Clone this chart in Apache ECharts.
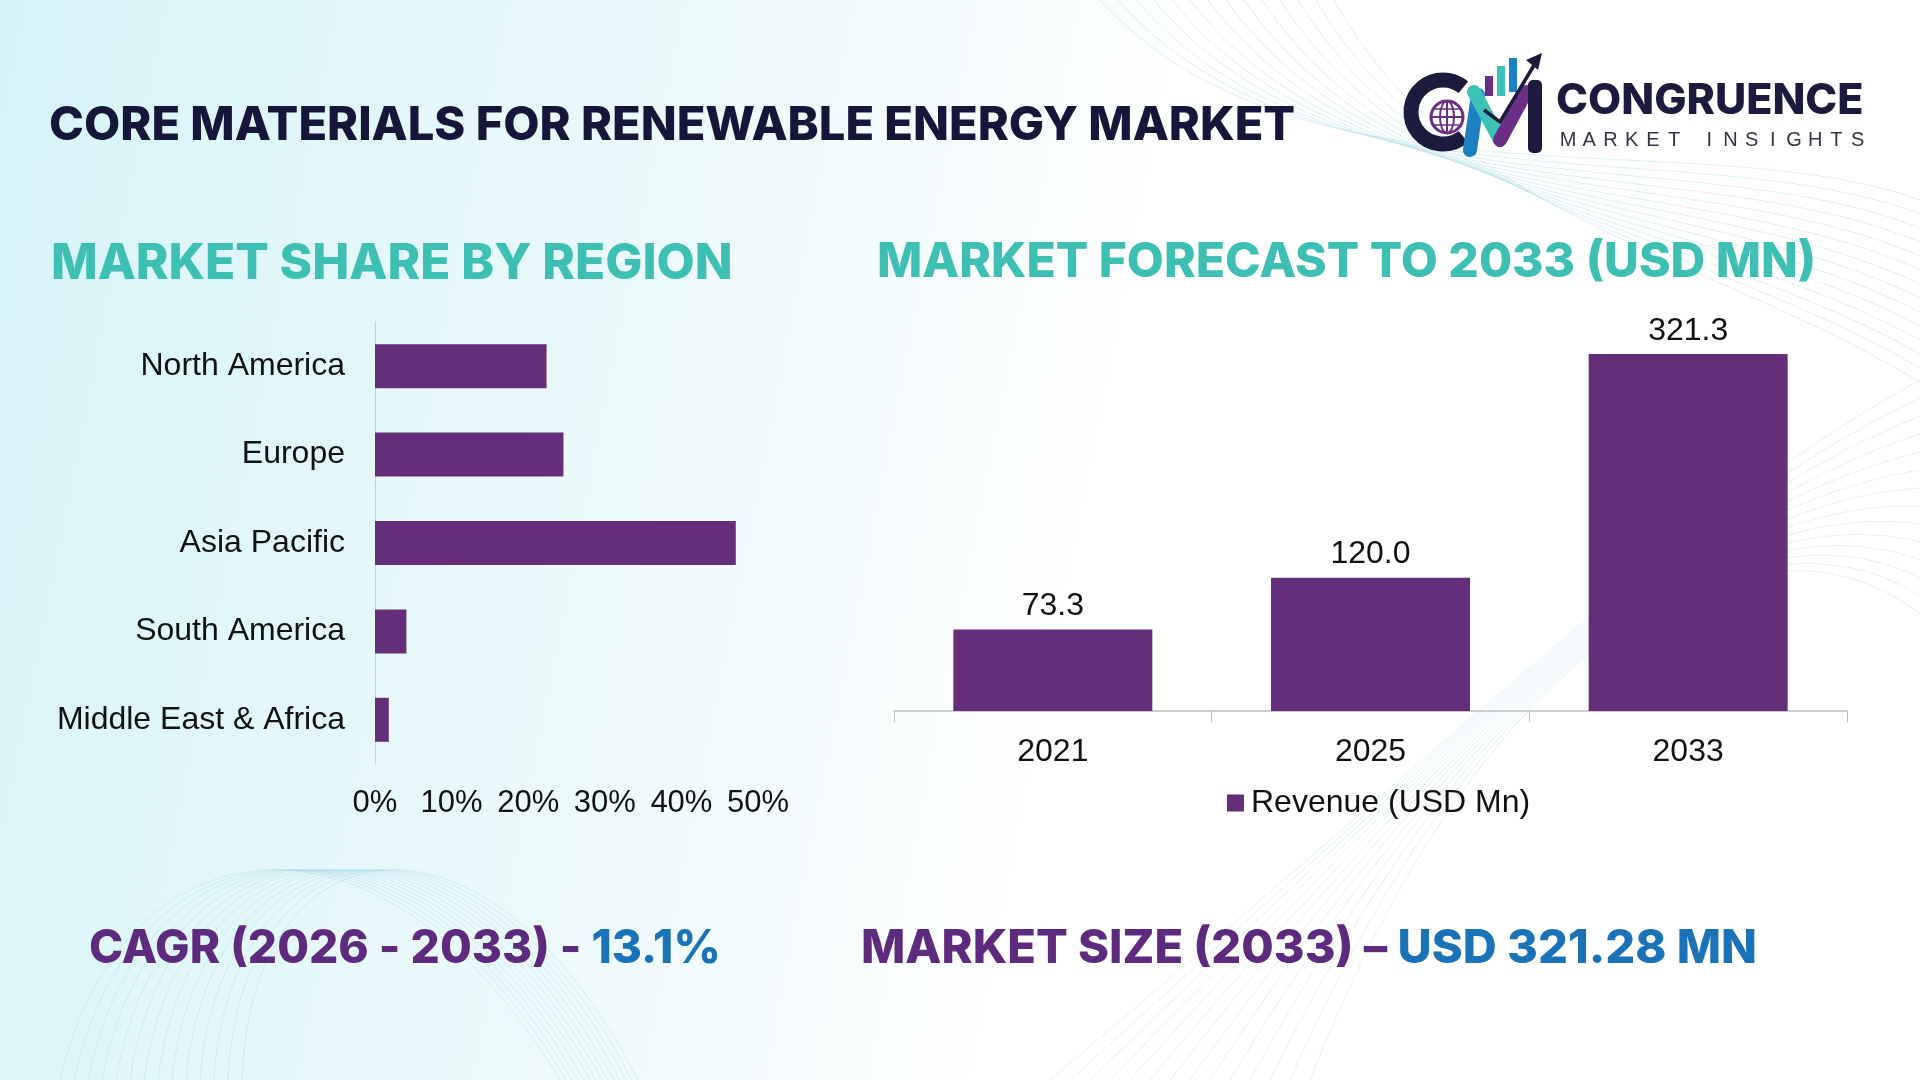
<!DOCTYPE html>
<html>
<head>
<meta charset="utf-8">
<title>Core Materials for Renewable Energy Market</title>
<script src="https://cdn.jsdelivr.net/npm/echarts@6/dist/echarts.min.js"></script>
<style>
  html, body { margin: 0; padding: 0; }
  #main { width: 1920px; height: 1080px; }
</style>
</head>
<body>
<div id="main"></div>
<script>
// region share (fraction of total)
var regions = ['North America', 'Europe', 'Asia Pacific', 'South America', 'Middle East & Africa'];
var regionShare = [0.224, 0.246, 0.471, 0.041, 0.018];
var shareTicks = [0, 0.1, 0.2, 0.3, 0.4, 0.5];

// forecast
var years = ['2021', '2025', '2033'];
var revenue = [73.3, 120.0, 321.3];

var purple = '#642e7a';
var labelFont = 'Liberation Sans, Arial, sans-serif';
var headFont = 'Inter, Open Sans, sans-serif';

var chart = echarts.init(document.getElementById('main'));

// faint background wave lines
var waves = [];
for (var i = 0; i < 14; i++) {
    waves.push({
        type: 'bezierCurve',
        silent: true,
        shape: { x1: 1100 + i * 18, y1: 0, cpx1: 1300 + i * 12, cpy1: 220, cpx2: 1700, cpy2: 120 + i * 10, x2: 1920, y2: 200 + i * 14 },
        style: { stroke: '#9fd3e0', lineWidth: 1, opacity: 0.35, fill: null }
    });
    waves.push({
        type: 'bezierCurve',
        silent: true,
        shape: { x1: 60 + i * 14, y1: 1080, cpx1: 120 + i * 10, cpy1: 820, cpx2: 380 + i * 8, cpy2: 780, x2: 560 + i * 6, y2: 1080 },
        style: { stroke: '#9fd3e0', lineWidth: 1, opacity: 0.35, fill: null }
    });
    waves.push({
        type: 'bezierCurve',
        silent: true,
        shape: { x1: 1050 + i * 20, y1: 1080, cpx1: 1500, cpy1: 700 - i * 8, cpx2: 1700 + i * 6, cpy2: 500, x2: 1920, y2: 380 + i * 18 },
        style: { stroke: '#9fd3e0', lineWidth: 1, opacity: 0.3, fill: null }
    });
}

var logo = [
    { type: 'arc', shape: { cx: 1443, cy: 112, r: 32, startAngle: Math.PI * 0.28, endAngle: Math.PI * 1.72, clockwise: true },
      style: { stroke: '#1c1a3d', lineWidth: 15, fill: null } },
    { type: 'circle', shape: { cx: 1447, cy: 117, r: 16 }, style: { fill: 'none', stroke: '#6a2f85', lineWidth: 3 } },
    { type: 'line', shape: { x1: 1431, y1: 117, x2: 1463, y2: 117 }, style: { stroke: '#6a2f85', lineWidth: 2 } },
    { type: 'line', shape: { x1: 1447, y1: 101, x2: 1447, y2: 133 }, style: { stroke: '#6a2f85', lineWidth: 2 } },
    { type: 'ellipse', shape: { cx: 1447, cy: 117, rx: 7, ry: 16 }, style: { fill: 'none', stroke: '#6a2f85', lineWidth: 2 } },
    { type: 'line', shape: { x1: 1433, y1: 109, x2: 1461, y2: 109 }, style: { stroke: '#6a2f85', lineWidth: 1.5 } },
    { type: 'line', shape: { x1: 1433, y1: 125, x2: 1461, y2: 125 }, style: { stroke: '#6a2f85', lineWidth: 1.5 } },
    { type: 'polyline', shape: { points: [[1470, 150], [1478, 95]] }, style: { stroke: '#1d7fc4', lineWidth: 14, lineCap: 'round' } },
    { type: 'polyline', shape: { points: [[1474, 92], [1500, 140]] }, style: { stroke: '#3dc2b8', lineWidth: 14, lineCap: 'round' } },
    { type: 'polyline', shape: { points: [[1500, 140], [1526, 92]] }, style: { stroke: '#6a2f85', lineWidth: 14, lineCap: 'round' } },
    { type: 'rect', shape: { x: 1528, y: 80, width: 14, height: 73, r: 5 }, style: { fill: '#1c1a3d' } },
    { type: 'rect', shape: { x: 1485, y: 76, width: 8, height: 20 }, style: { fill: '#6a2f85' } },
    { type: 'rect', shape: { x: 1497, y: 66, width: 8, height: 30 }, style: { fill: '#3dc2b8' } },
    { type: 'rect', shape: { x: 1509, y: 58, width: 8, height: 34 }, style: { fill: '#1d7fc4' } },
    { type: 'polyline', shape: { points: [[1484, 110], [1500, 122], [1536, 62]] }, style: { stroke: '#1c1a3d', lineWidth: 3.5, fill: null } },
    { type: 'polygon', shape: { points: [[1542, 53], [1526, 60], [1538, 70]] }, style: { fill: '#1c1a3d' } },
    { type: 'text', left: 1556, top: 80, style: { text: 'CONGRUENCE', font: '800 43px ' + headFont, fill: '#1c1a3d' } }
];

// spaced-out tagline under the logo name
var tagline = 'MARKET INSIGHTS';
var tx = 1568;
for (var k = 0; k < tagline.length; k++) {
    if (tagline[k] !== ' ') {
        logo.push({
            type: 'text', x: tx, y: 140,
            style: { text: tagline[k], font: '400 20px ' + labelFont, fill: '#333344', align: 'center', verticalAlign: 'middle' }
        });
    }
    tx += tagline[k] === ' ' ? 14 : 21.2;
}

var option = {
    backgroundColor: {
        type: 'linear', x: 0, y: 0, x2: 1, y2: 0.35,
        colorStops: [
            { offset: 0, color: '#d6f4f8' },
            { offset: 0.45, color: '#f2fbfd' },
            { offset: 0.6, color: '#ffffff' },
            { offset: 1, color: '#ffffff' }
        ]
    },
    animation: false,
    graphic: waves.concat(logo).concat([
        { type: 'text', left: 49, top: 102, style: { text: 'CORE MATERIALS FOR RENEWABLE ENERGY MARKET', font: '800 47px ' + headFont, fill: '#16163a' } },
        { type: 'text', left: 51, top: 239, style: { text: 'MARKET SHARE BY REGION', font: '800 49.5px ' + headFont, fill: '#3dbfb4' } },
        { type: 'text', left: 877, top: 239, style: { text: 'MARKET FORECAST TO 2033 (USD MN)', font: '800 48px ' + headFont, fill: '#3dbfb4' } },
        { type: 'text', left: 89, top: 926, style: {
            text: '{a|CAGR (2026 - 2033) - }{b|13.1%}',
            rich: {
                a: { font: '800 46px ' + headFont, fill: '#5e2a7e' },
                b: { font: '800 46px ' + headFont, fill: '#1a73b8' }
            }
        } },
        { type: 'text', left: 861, top: 925, style: {
            text: '{a|MARKET SIZE (2033) – }{b|USD 321.28 MN}',
            rich: {
                a: { font: '800 47px ' + headFont, fill: '#5e2a7e' },
                b: { font: '800 47px ' + headFont, fill: '#1a73b8' }
            }
        } }
    ]),
    legend: {
        data: ['Revenue (USD Mn)'],
        left: 1222,
        top: 782,
        icon: 'rect',
        itemWidth: 17,
        itemHeight: 17,
        textStyle: { fontFamily: labelFont, fontSize: 32, color: '#111', padding: [0, 0, 0, 2] }
    },
    grid: [
        { left: 375, top: 322, width: 383, height: 442 },
        { left: 894, top: 322, width: 953, height: 389 }
    ],
    xAxis: [
        {
            gridIndex: 0, type: 'value', min: 0, max: 0.5, interval: 0.1,
            splitLine: { show: false }, axisLine: { show: false }, axisTick: { show: false },
            axisLabel: {
                margin: 24, fontFamily: labelFont, fontSize: 31, color: '#111',
                formatter: function (v) { return Math.round(v * 100) + '%'; }
            }
        },
        {
            gridIndex: 1, type: 'category', data: years,
            axisLine: { lineStyle: { color: '#bfbfbf', width: 1.5 } },
            axisTick: { show: true, length: 11, lineStyle: { color: '#bfbfbf' } },
            axisLabel: { margin: 25, fontFamily: labelFont, fontSize: 32, color: '#111' }
        }
    ],
    yAxis: [
        {
            gridIndex: 0, type: 'category', data: regions, inverse: true,
            axisLine: { lineStyle: { color: '#d0d0d0', width: 1 } },
            axisTick: { show: false },
            axisLabel: { margin: 30, fontFamily: labelFont, fontSize: 32, color: '#111' }
        },
        {
            gridIndex: 1, type: 'value', min: 0, max: 350, show: false,
            splitLine: { show: false }
        }
    ],
    series: [
        {
            type: 'bar', xAxisIndex: 0, yAxisIndex: 0,
            data: regionShare, barWidth: 44,
            itemStyle: { color: purple }
        },
        {
            name: 'Revenue (USD Mn)', type: 'bar', xAxisIndex: 1, yAxisIndex: 1,
            data: revenue, barWidth: 199,
            itemStyle: { color: purple },
            label: {
                show: true, position: 'top', distance: 7,
                fontFamily: labelFont, fontSize: 32, color: '#111',
                formatter: function (p) { return p.value.toFixed(1); }
            }
        }
    ]
};

chart.setOption(option);
window.onresize = chart.resize;
</script>
</body>
</html>
